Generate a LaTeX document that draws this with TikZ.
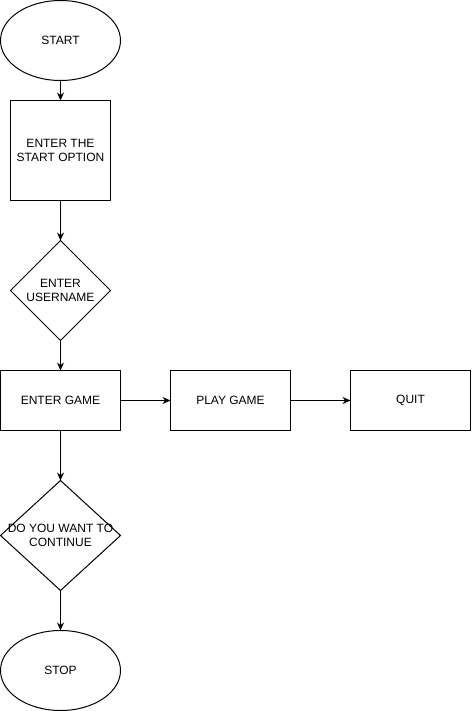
\documentclass[tikz,border=0pt]{standalone}
\usepackage{fontspec}
\setmainfont{Liberation Sans}
\usepackage{tikz}
\usetikzlibrary{shapes,shapes.geometric,arrows.meta,positioning}
\tikzset{
  terminal/.style={ellipse, draw, minimum width=120pt, minimum height=80pt, inner sep=0pt},
  box/.style={draw, rectangle, minimum width=120pt, minimum height=60pt, align=center, inner sep=2pt},
  decision/.style={diamond, draw, inner sep=0pt},
  inside/.style={align=center, inner sep=0pt},
  flow/.style={-{Stealth[length=8pt,width=7pt]}}
}

\begin{document}
\begin{tikzpicture}[x=1pt,y=-1pt,outer sep=0pt,line width=1pt,font=\fontsize{12}{14}\selectfont]
    \useasboundingbox (0,0) rectangle (471,711);
    \node (start) [terminal] at (60.5,40.5) {START};
    \node (option) [box,minimum width=100pt,minimum height=100pt,below=20pt of start] {ENTER THE\\START OPTION};
    \node (user) [decision,minimum width=100pt,minimum height=100pt,below=40pt of option,
      label={[inside]center:ENTER\\USERNAME}] {};
    \node (game) [box,below=30pt of user] {ENTER GAME};
    \node (play) [box,right=50pt of game] {PLAY GAME};
    \node (quit) [box,right=60pt of play] {QUIT};
    \node (cont) [decision,minimum width=120pt,minimum height=110pt,below=50pt of game,
      label={[inside]center:DO YOU WANT TO\\CONTINUE}] {};
    \node (stop) [terminal,below=40pt of cont] {STOP};
%    main column
    \draw[flow] (start) -- (option);
    \draw[flow] (option) -- (user);
    \draw[flow] (user) -- (game);
    \draw[flow] (game) -- (cont);
    \draw[flow] (cont) -- (stop);
%    side row
    \draw[flow] (game) -- (play);
    \draw[flow] (play) -- (quit);
\end{tikzpicture}
\end{document}
